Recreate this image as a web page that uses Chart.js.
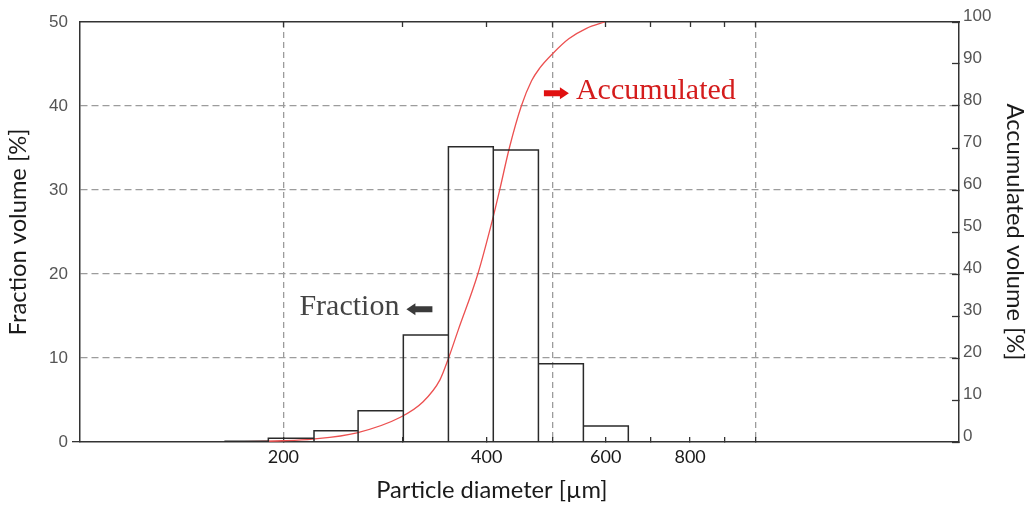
<!DOCTYPE html>
<html><head><meta charset="utf-8">
<script src="https://cdn.jsdelivr.net/npm/chart.js@4.4.1/dist/chart.umd.min.js"></script>
<style>html,body{margin:0;padding:0;background:#fff}#wrap{width:1027px;height:506px;position:relative}</style>
</head><body><div id="wrap"><canvas id="c"></canvas></div>
<script>
// ---- data ----
const binEdges = [164, 190, 222, 258, 301, 351, 409, 477, 556, 648];      // µm
const fractionVolume = [0.1, 0.44, 1.35, 3.73, 12.74, 35.15, 34.76, 9.32, 1.9]; // %
const accumDiameter = [164, 199, 221, 257, 298, 322, 341, 351, 363, 388, 408, 418, 432, 450, 466, 479, 501, 529, 562, 598];
const accumVolume   = [0, 0.3, 0.7, 2.2, 5.9, 9.6, 14.8, 19.9, 26.7, 40, 53, 60, 70, 80, 86, 89, 92.5, 96, 98.5, 100];
const xTickValues = [200, 300, 400, 500, 600, 700, 800, 900, 1000];
const xTickLabels = {200: '200', 400: '400', 600: '600', 800: '800'};
const xGridValues = [200, 500, 1000];
const yLeftTicks = [0, 10, 20, 30, 40, 50];
const yRightTicks = [0, 10, 20, 30, 40, 50, 60, 70, 80, 90, 100];
const xTitle = {text: 'Particle diameter [µm]', at: 407};
const annotations = [
  {text: 'Fraction', x: 297, y: 15.1, axis: 'y', color: '#444', arrow: 'left'},
  {text: 'Accumulated', x: 542, y: 81.6, axis: 'y2', color: '#d41c1c', arrow: 'right'}
];

// histogram outline built from bins
const histPoints = [];
fractionVolume.forEach((h, i) => {
  const a = binEdges[i], b = binEdges[i + 1];
  histPoints.push({x: a, y: 0}, {x: a, y: h}, {x: b, y: h}, {x: b, y: 0});
});
const accumPoints = accumDiameter.map((d, i) => ({x: d, y: accumVolume[i]}));

const GRID = '#9c9c9c', AXIS = '#333';
const sansTitle = {family: 'Lato', size: 23.7, lineHeight: 1};

const annotPlugin = {
  id: 'annot',
  afterDatasetsDraw(chart) {
    const ctx = chart.ctx, xs = chart.scales.x;
    ctx.save();
    annotations.forEach(a => {
      const px = xs.getPixelForValue(a.x);
      const py = chart.scales[a.axis].getPixelForValue(a.y);
      ctx.font = '30px "Liberation Serif"';
      ctx.fillStyle = a.color;
      ctx.textBaseline = 'alphabetic';
      if (a.arrow === 'left') {
        ctx.textAlign = 'right';
        ctx.fillText(a.text, px, py);
        const x0 = px + 7, x1 = px + 33, cy = py - 6;
        ctx.fillStyle = '#3a3a3a';
        ctx.beginPath();
        ctx.moveTo(x0, cy);
        ctx.lineTo(x0 + 9, cy - 6);
        ctx.lineTo(x0 + 9, cy - 3);
        ctx.lineTo(x1, cy - 3);
        ctx.lineTo(x1, cy + 3);
        ctx.lineTo(x0 + 9, cy + 3);
        ctx.lineTo(x0 + 9, cy + 6);
        ctx.closePath();
        ctx.fill();
      } else {
        ctx.textAlign = 'left';
        ctx.fillText(a.text, px, py);
        const x1 = px - 7, x0 = px - 32, cy = py - 6;
        ctx.fillStyle = '#e01010';
        ctx.beginPath();
        ctx.moveTo(x1, cy);
        ctx.lineTo(x1 - 9, cy - 6);
        ctx.lineTo(x1 - 9, cy - 3);
        ctx.lineTo(x0, cy - 3);
        ctx.lineTo(x0, cy + 3);
        ctx.lineTo(x1 - 9, cy + 3);
        ctx.lineTo(x1 - 9, cy + 6);
        ctx.closePath();
        ctx.fill();
      }
    });
    // x-axis title, centred under the given diameter
    ctx.font = '23.7px Lato';
    ctx.fillStyle = '#1a1a1a';
    ctx.textAlign = 'center';
    ctx.textBaseline = 'middle';
    ctx.fillText(xTitle.text, xs.getPixelForValue(xTitle.at), xs.bottom - 16);
    ctx.restore();
  }
};

new Chart(document.getElementById('c'), {
  type: 'line',
  data: {
    datasets: [
      {label: 'Fraction', data: histPoints, xAxisID: 'x', yAxisID: 'y',
       borderColor: '#2a2a2a', borderWidth: 1.5, pointRadius: 0, tension: 0, fill: false},
      {label: 'Accumulated', data: accumPoints, xAxisID: 'x', yAxisID: 'y2',
       borderColor: '#ec5050', borderWidth: 1.3, pointRadius: 0, cubicInterpolationMode: 'monotone', fill: false}
    ]
  },
  options: {
    responsive: true, maintainAspectRatio: false, animation: false,
    layout: {padding: 0},
    plugins: {legend: {display: false}, tooltip: {enabled: false}},
    scales: {
      x: {
        type: 'logarithmic', position: 'bottom', min: 100, max: 2000,
        afterBuildTicks: s => { s.ticks = xTickValues.map(v => ({value: v})); },
        afterFit: s => { s.height = 64; },
        ticks: {autoSkip: false, maxRotation: 0, minRotation: 0, padding: 9,
                callback: v => xTickLabels[v] || '', color: '#1a1a1a', font: {family: 'Lato', size: 18}},
        grid: {color: c => (c.tick && xGridValues.includes(c.tick.value)) ? GRID : 'rgba(0,0,0,0)',
               lineWidth: 1.3, tickLength: -5, tickColor: AXIS, tickWidth: 1.3},
        border: {display: true, color: AXIS, width: 1.5, dash: [6, 4]}
      },
      x2: {
        type: 'logarithmic', position: 'top', min: 100, max: 2000,
        afterBuildTicks: s => { s.ticks = xTickValues.map(v => ({value: v})); },
        afterFit: s => { s.height = 22; },
        ticks: {display: false},
        grid: {drawOnChartArea: false, tickLength: -5, tickColor: AXIS, tickWidth: 1.3},
        border: {display: true, color: AXIS, width: 1.5}
      },
      y: {
        position: 'left', min: 0, max: 50,
        afterBuildTicks: s => { s.ticks = yLeftTicks.map(v => ({value: v})); },
        afterFit: s => { s.width = 80; },
        ticks: {padding: 4, color: '#555', font: {family: 'Liberation Sans', size: 17}},
        grid: {color: c => (c.tick && c.tick.value > 0 && c.tick.value < 50) ? GRID : 'rgba(0,0,0,0)',
               lineWidth: 1.3, tickLength: 8,
               tickColor: c => (c.tick && c.tick.value === 0) ? AXIS : 'rgba(0,0,0,0)', tickWidth: 1.3},
        border: {display: true, color: AXIS, width: 1.5, dash: [7, 4]},
        title: {display: true, text: 'Fraction volume [%]', color: '#1a1a1a', font: sansTitle, padding: {top: 7, bottom: 0}}
      },
      y2: {
        position: 'right', min: 0, max: 100,
        afterBuildTicks: s => { s.ticks = yRightTicks.map(v => ({value: v})); },
        afterFit: s => { s.width = 68; },
        ticks: {padding: 11, labelOffset: -6, color: '#555', font: {family: 'Liberation Sans', size: 17}},
        grid: {drawOnChartArea: false, tickLength: -7, tickColor: AXIS, tickWidth: 1.3},
        border: {display: true, color: AXIS, width: 1.5},
        title: {display: true, text: 'Accumulated volume [%]', color: '#1a1a1a', font: sansTitle, padding: {top: 1, bottom: 0}}
      }
    }
  },
  plugins: [annotPlugin]
});
</script></body></html>
